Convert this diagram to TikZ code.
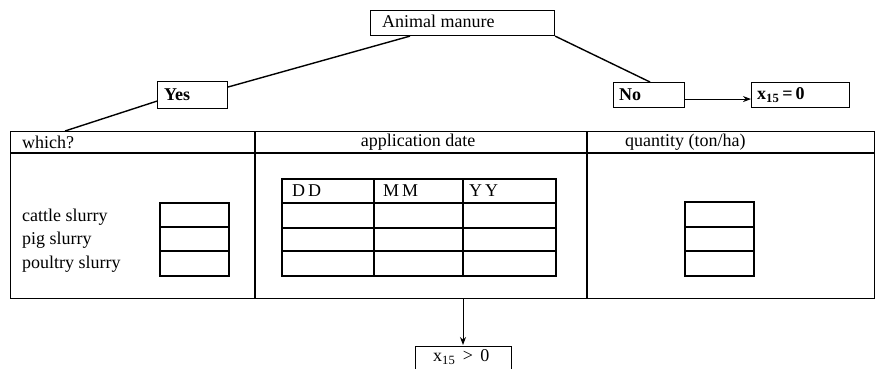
\documentclass[tikz,border=0pt]{standalone}
\usepackage{fontspec}
\setmainfont{Liberation Serif}
\usetikzlibrary{calc,arrows.meta}
\begin{document}
\begin{tikzpicture}[x=1pt,y=-1pt,
  every node/.style={font=\fontsize{18}{20}\selectfont},
  box/.style={draw,line width=1.1pt,rectangle,inner sep=0pt,anchor=north west},
  lbl/.style={inner sep=0pt,anchor=west},
  conn/.style={line width=1.4pt},
  grid/.style={line width=1.1pt},
  arr/.style={line width=1pt,-{Stealth[length=8pt,width=6pt]}}]
\useasboundingbox (0,0) rectangle (875,368);
% boxes
\node[box,minimum width=184pt,minimum height=25pt] (manure) at (370,10) {};
\node[lbl] (manuretxt) at (382,21) {Animal manure};
\node[box,minimum width=70pt,minimum height=27pt] (yes) at (157,81) {};
\node[lbl] (yestxt) at (164,95) {\bfseries Yes};
\node[box,minimum width=71pt,minimum height=25pt] (no) at (613,82) {};
\node[lbl] (notxt) at (619,95) {\bfseries No};
\node[box,minimum width=98pt,minimum height=25pt] (zero) at (751,82) {};
\node[lbl] (zerotxt) at (757,95) {\bfseries x\textsubscript{15}\,=\,0};
% main table
\node[box,minimum width=864pt,minimum height=167pt] (table) at (10,131) {};
\draw[grid] (10,153) -- (874,153);
\draw[grid] (255,131) -- (255,298);
\draw[grid] (587,131) -- (587,298);
\node[lbl] (which) at (22,142) {which?};
\node[inner sep=0pt] (appdate) at (418,142) {application date};
\node[lbl] (quantity) at (625,142) {quantity (ton/ha)};
% which grid
\node[lbl] (cattle) at (22,217) {cattle slurry};
\node[lbl] (pig) at (22,240) {pig slurry};
\node[lbl] (poultry) at (22,264) {poultry slurry};
\draw[grid] (160,203) rectangle (229,276);
\draw[grid] (160,227) -- (229,227) (160,251) -- (229,251);
% date grid
\draw[grid] (282,179) rectangle (556,276);
\draw[grid] (282,203) -- (556,203) (282,228) -- (556,228) (282,251) -- (556,251);
\draw[grid] (374,179) -- (374,276) (463,179) -- (463,276);
\node[lbl] (dd) at (292,191) {D\,D};
\node[lbl] (mm) at (383,191) {M\,M};
\node[lbl] (yy) at (469,191) {Y\,Y};
% quantity grid
\draw[grid] (685,202) rectangle (754,276);
\draw[grid] (685,227) -- (754,227) (685,251) -- (754,251);
% bottom box
\node[box,minimum width=96pt,minimum height=30pt] (gt) at (415,346) {};
\node[lbl] (gttxt) at (433,357) {x\textsubscript{15} \,>\, 0};
% connectors
\draw[conn] ($(manure.south west)+(40,0)$) -- ($(yes.north east)+(0,6)$);
\draw[conn] ($(yes.south west)+(0,-8)$) -- ($(table.north west)+(55,0)$);
\draw[conn] (manure.south east) -- ($(no.north west)+(37,0)$);
\draw[arr] ($(no.east)+(0,4)$) -- ($(zero.west)+(0,4)$);
\draw[arr] ($(table.south west)+(453,0)$) -- ($(gt.north west)+(48,-1)$);
\end{tikzpicture}
\end{document}
